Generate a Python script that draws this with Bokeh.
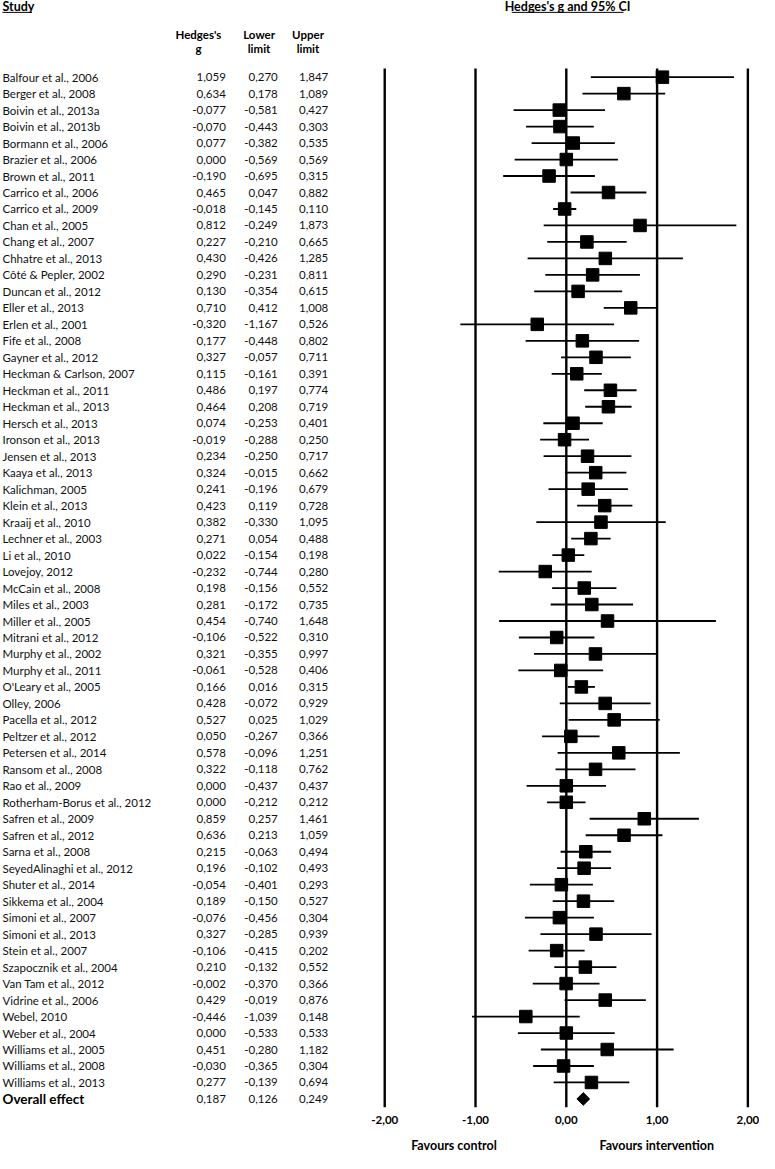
import numpy as np
from bokeh.plotting import figure
from bokeh.models import ColumnDataSource, Range1d
from bokeh.core.properties import value
from bokeh.embed import file_html
from bokeh.resources import INLINE

studies = [
    "Balfour et al., 2006", "Berger et al., 2008", "Boivin et al., 2013a", "Boivin et al., 2013b",
    "Bormann et al., 2006", "Brazier et al., 2006", "Brown et al., 2011", "Carrico et al., 2006",
    "Carrico et al., 2009", "Chan et al., 2005", "Chang et al., 2007", "Chhatre et al., 2013",
    "Côté & Pepler, 2002", "Duncan et al., 2012", "Eller et al., 2013", "Erlen et al., 2001",
    "Fife et al., 2008", "Gayner et al., 2012", "Heckman & Carlson, 2007", "Heckman et al., 2011",
    "Heckman et al., 2013", "Hersch et al., 2013", "Ironson et al., 2013", "Jensen et al., 2013",
    "Kaaya et al., 2013", "Kalichman, 2005", "Klein et al., 2013", "Kraaij et al., 2010",
    "Lechner et al., 2003", "Li et al., 2010", "Lovejoy, 2012", "McCain et al., 2008",
    "Miles et al., 2003", "Miller et al., 2005", "Mitrani et al., 2012", "Murphy et al., 2002",
    "Murphy et al., 2011", "O'Leary et al., 2005", "Olley, 2006", "Pacella et al., 2012",
    "Peltzer et al., 2012", "Petersen et al., 2014", "Ransom et al., 2008", "Rao et al., 2009",
    "Rotherham-Borus et al., 2012", "Safren et al., 2009", "Safren et al., 2012", "Sarna et al., 2008",
    "SeyedAlinaghi et al., 2012", "Shuter et al., 2014", "Sikkema et al., 2004", "Simoni et al., 2007",
    "Simoni et al., 2013", "Stein et al., 2007", "Szapocznik et al., 2004", "Van Tam et al., 2012",
    "Vidrine et al., 2006", "Webel, 2010", "Weber et al., 2004", "Williams et al., 2005",
    "Williams et al., 2008", "Williams et al., 2013",
]
hedges_g = [
    1.059, 0.634, -0.077, -0.070, 0.077, 0.000, -0.190, 0.465, -0.018, 0.812, 0.227, 0.430,
    0.290, 0.130, 0.710, -0.320, 0.177, 0.327, 0.115, 0.486, 0.464, 0.074, -0.019, 0.234,
    0.324, 0.241, 0.423, 0.382, 0.271, 0.022, -0.232, 0.198, 0.281, 0.454, -0.106, 0.321,
    -0.061, 0.166, 0.428, 0.527, 0.050, 0.578, 0.322, 0.000, 0.000, 0.859, 0.636, 0.215,
    0.196, -0.054, 0.189, -0.076, 0.327, -0.106, 0.210, -0.002, 0.429, -0.446, 0.000, 0.451,
    -0.030, 0.277,
]
lower_limit = [
    0.270, 0.178, -0.581, -0.443, -0.382, -0.569, -0.695, 0.047, -0.145, -0.249, -0.210, -0.426,
    -0.231, -0.354, 0.412, -1.167, -0.448, -0.057, -0.161, 0.197, 0.208, -0.253, -0.288, -0.250,
    -0.015, -0.196, 0.119, -0.330, 0.054, -0.154, -0.744, -0.156, -0.172, -0.740, -0.522, -0.355,
    -0.528, 0.016, -0.072, 0.025, -0.267, -0.096, -0.118, -0.437, -0.212, 0.257, 0.213, -0.063,
    -0.102, -0.401, -0.150, -0.456, -0.285, -0.415, -0.132, -0.370, -0.019, -1.039, -0.533, -0.280,
    -0.365, -0.139,
]
upper_limit = [
    1.847, 1.089, 0.427, 0.303, 0.535, 0.569, 0.315, 0.882, 0.110, 1.873, 0.665, 1.285,
    0.811, 0.615, 1.008, 0.526, 0.802, 0.711, 0.391, 0.774, 0.719, 0.401, 0.250, 0.717,
    0.662, 0.679, 0.728, 1.095, 0.488, 0.198, 0.280, 0.552, 0.735, 1.648, 0.310, 0.997,
    0.406, 0.315, 0.929, 1.029, 0.366, 1.251, 0.762, 0.437, 0.212, 1.461, 1.059, 0.494,
    0.493, 0.293, 0.527, 0.304, 0.939, 0.202, 0.552, 0.366, 0.876, 0.148, 0.533, 1.182,
    0.304, 0.694,
]
overall_label = "Overall effect"
overall_g = 0.187
overall_lower = 0.126
overall_upper = 0.249
tick_values = [-2, -1, 0, 1, 2]
tick_labels = ["-2,00", "-1,00", "0,00", "1,00", "2,00"]


def fmt(v):
    return f"{v:.3f}".replace(".", ",")


FONT = value("Lato")
W, H = 759, 1153

p = figure(width=W, height=H, output_backend="svg", toolbar_location=None,
           x_range=Range1d(-6.232, 2.128), y_range=Range1d(65.31, -4.65),
           min_border=0, x_axis_type=None, y_axis_type=None)
p.grid.visible = False
p.outline_line_color = None
p.background_fill_color = "white"
p.border_fill_color = "white"

n = len(studies)
rows = list(range(n))
overall_row = n

src = ColumnDataSource(dict(
    study=studies, g=hedges_g, lo=lower_limit, hi=upper_limit, row=rows,
    g_txt=[fmt(v) for v in hedges_g], lo_txt=[fmt(v) for v in lower_limit],
    hi_txt=[fmt(v) for v in upper_limit],
))

# vertical reference lines
p.segment(x0=tick_values, y0=[-0.52] * 5, x1=tick_values, y1=[62.5] * 5,
          line_color="black", line_width=2.4)

# CIs and markers
p.segment(x0="lo", y0="row", x1="hi", y1="row", source=src, line_color="black", line_width=1.8)
p.scatter(x="g", y="row", source=src, marker="square", size=12.5, fill_color="black", line_color="black")
p.scatter(x=[overall_g], y=[overall_row], marker="square", angle=np.pi / 4, size=9,
          fill_color="black", line_color="black")

# table text
NAME_X, G_X, LO_X, HI_X = -6.21, -3.75, -3.178, -2.622
TS = "11.5px"
p.text(x=NAME_X, y="row", text="study", source=src, text_font=FONT, text_font_size=TS,
       text_baseline="middle", text_align="left", text_color="#111111")
for col, xx in (("g_txt", G_X), ("lo_txt", LO_X), ("hi_txt", HI_X)):
    p.text(x=xx, y="row", text=col, source=src, text_font=FONT, text_font_size=TS,
           text_baseline="middle", text_align="right", text_color="#111111")

p.text(x=[NAME_X], y=[overall_row], text=[overall_label], text_font=FONT, text_font_size="13.5px",
       text_font_style="bold", text_baseline="middle", text_align="left")
p.text(x=[G_X, LO_X, HI_X], y=[overall_row] * 3,
       text=[fmt(overall_g), fmt(overall_lower), fmt(overall_upper)],
       text_font=FONT, text_font_size=TS, text_baseline="middle", text_align="right", text_color="#111111")

# column headers
HS = "11.5px"
p.text(x=[-4.052, -3.384, -2.845], y=[-2.56] * 3, text=["Hedges's", "Lower", "Upper"],
       text_font=FONT, text_font_size=HS, text_font_style="bold", text_align="center",
       text_baseline="middle")
p.text(x=[-4.052, -3.384, -2.845], y=[-1.72] * 3, text=["g", "limit", "limit"],
       text_font=FONT, text_font_size=HS, text_font_style="bold", text_align="center",
       text_baseline="middle")

# titles with underline
p.text(x=[NAME_X], y=[-4.3], text=["Study"], text_font=FONT, text_font_size="12.5px",
       text_font_style="bold", text_align="left", text_baseline="middle")
p.segment(x0=[NAME_X], y0=[-3.93], x1=[-5.885], y1=[-3.93], line_color="black", line_width=1)
p.text(x=[0.014], y=[-4.3], text=["Hedges's g and 95% CI"], text_font=FONT, text_font_size="12.5px",
       text_font_style="bold", text_align="center", text_baseline="middle")
p.segment(x0=[-0.60], y0=[-3.93], x1=[0.63], y1=[-3.93], line_color="black", line_width=1)

# tick labels
p.text(x=tick_values, y=[63.27] * 5, text=tick_labels, text_font=FONT, text_font_size="11.5px",
       text_font_style="bold", text_align="center", text_baseline="middle")

# favours labels
p.text(x=[-1.237, 0.996], y=[64.83] * 2, text=["Favours control", "Favours intervention"],
       text_font=FONT, text_font_size="12.5px", text_font_style="bold", text_align="center",
       text_baseline="middle")

open("out.html", "w").write(file_html(p, INLINE))
